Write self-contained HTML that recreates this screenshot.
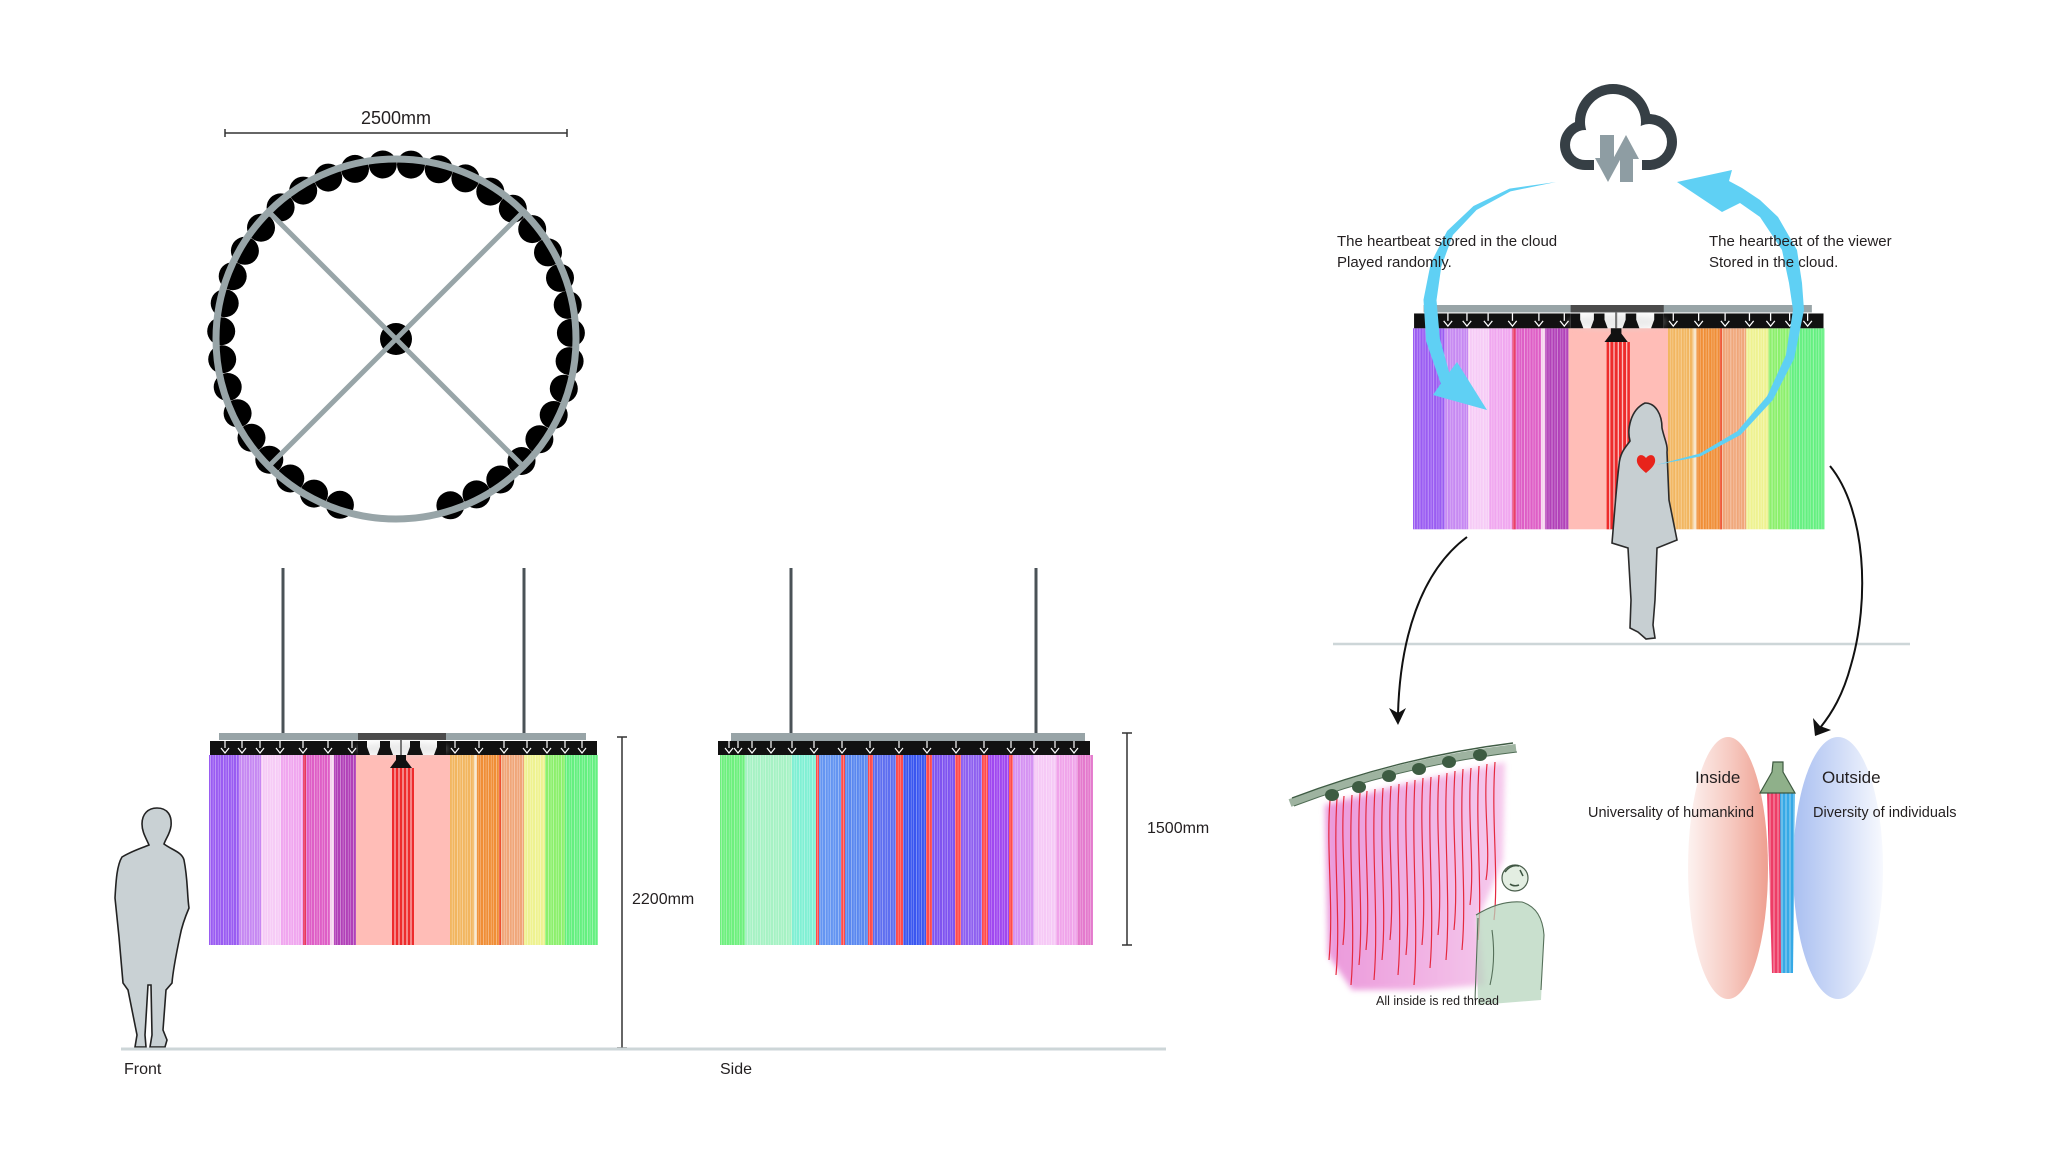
<!DOCTYPE html>
<html><head><meta charset="utf-8"><style>
html,body{margin:0;padding:0;background:#fff}
svg{display:block}
text{font-family:"Liberation Sans",sans-serif;fill:#231f20}
</style></head><body>
<svg width="2048" height="1152" viewBox="0 0 2048 1152" xmlns="http://www.w3.org/2000/svg">
<defs>
<pattern id="st" patternUnits="userSpaceOnUse" width="13" height="400">
<rect x="1" y="0" width="0.8" height="400" fill="#fff" opacity=".75"/>
<rect x="3.6" y="0" width="1" height="400" fill="#fff" opacity=".45"/>
<rect x="6.2" y="0" width="0.7" height="400" fill="#fff" opacity=".8"/>
<rect x="8.8" y="0" width="1.1" height="400" fill="#fff" opacity=".4"/>
<rect x="11.3" y="0" width="0.6" height="400" fill="#fff" opacity=".7"/>
</pattern>
<pattern id="st2" patternUnits="userSpaceOnUse" width="4" height="400">
<rect x="1.5" y="0" width="1" height="400" fill="#fff" opacity=".85"/>
</pattern>
<linearGradient id="gRed" x1="0" y1="0" x2="1" y2="0">
<stop offset="0" stop-color="#fdf2f0"/><stop offset="0.55" stop-color="#f6c8bf"/><stop offset="1" stop-color="#ee9f90"/>
</linearGradient>
<linearGradient id="gBlue" x1="0" y1="0" x2="1" y2="0">
<stop offset="0" stop-color="#a9bff1"/><stop offset="0.5" stop-color="#cfdbf7"/><stop offset="1" stop-color="#f7f9fe"/>
</linearGradient>
<linearGradient id="gPink" x1="0" y1="0" x2="1" y2="0">
<stop offset="0" stop-color="#e67fd2"/><stop offset="1" stop-color="#f4bde8"/>
</linearGradient>
<filter id="blur3" x="-20%" y="-20%" width="140%" height="140%"><feGaussianBlur stdDeviation="3"/></filter>

<g id="fc">
<rect x="10" y="0" width="367" height="7" fill="#98a4a7"/>
<rect x="149" y="0" width="88" height="7" fill="#4b4b4b"/>
<rect x="0" y="22" width="30" height="190" fill="#9a5cf2"/>
<rect x="30" y="22" width="22" height="190" fill="#c688f2"/>
<rect x="52" y="22" width="20" height="190" fill="#f6cbf6"/>
<rect x="72" y="22" width="22" height="190" fill="#f0a6ef"/>
<rect x="94" y="22" width="27" height="190" fill="#de5ec6"/>
<rect x="94" y="22" width="3" height="190" fill="#e8365e"/>
<rect x="121" y="22" width="4" height="190" fill="#f5d4ee"/>
<rect x="125" y="22" width="22" height="190" fill="#b140b8"/>
<rect x="147" y="22" width="94" height="190" fill="#ffbdb7"/>
<rect x="241" y="22" width="24" height="190" fill="#f2b660"/>
<rect x="265" y="22" width="3" height="190" fill="#f6e0c0"/>
<rect x="268" y="22" width="24" height="190" fill="#f08e36"/>
<rect x="290" y="22" width="2" height="190" fill="#ee5030"/>
<rect x="292" y="22" width="23" height="190" fill="#f0a679"/>
<rect x="315" y="22" width="21" height="190" fill="#eef290"/>
<rect x="336" y="22" width="20" height="190" fill="#8cf06c"/>
<rect x="356" y="22" width="33" height="190" fill="#64f080"/>
<rect x="0" y="22" width="147" height="190" fill="url(#st)" opacity=".6"/>
<rect x="241" y="22" width="148" height="190" fill="url(#st)" opacity=".6"/>
<rect x="183" y="35" width="22" height="177" fill="#ee2b2b"/>
<rect x="183" y="35" width="22" height="177" fill="url(#st2)"/>
<rect x="1" y="8" width="148" height="14" fill="#111"/>
<rect x="237" y="8" width="151" height="14" fill="#111"/>
<path d="M16,8v7M12,15l4,5l4,-5M33,8v7M29,15l4,5l4,-5M51,8v7M47,15l4,5l4,-5M71,8v7M67,15l4,5l4,-5M94,8v7M90,15l4,5l4,-5M119,8v7M115,15l4,5l4,-5M143,8v7M139,15l4,5l4,-5M246,8v7M242,15l4,5l4,-5M270,8v7M266,15l4,5l4,-5M295,8v7M291,15l4,5l4,-5M318,8v7M314,15l4,5l4,-5M338,8v7M334,15l4,5l4,-5M356,8v7M352,15l4,5l4,-5M373,8v7M369,15l4,5l4,-5" stroke="#fff" stroke-width="1.2" fill="none"/>
<ellipse cx="193" cy="16" rx="46" ry="7" fill="#d8d8d8" opacity=".5" filter="url(#blur3)"/>
<path d="M149,8h9v6l3,8h-12z" fill="#111"/>
<path d="M171,8h10v6l3,8h-16l3,-8z" fill="#111"/>
<path d="M201,8h10v6l3,8h-16l3,-8z" fill="#111"/>
<path d="M228,8h9v14h-12l3,-8z" fill="#111"/>
<line x1="192" y1="7" x2="192" y2="22" stroke="#777" stroke-width="2"/>
<path d="M187,22h10v5l6,8h-22l6,-8z" fill="#111"/>
</g>
</defs>

<!-- ===== Top view ===== -->
<text x="396" y="124" font-size="18" text-anchor="middle">2500mm</text>
<path d="M225,133H567M225,129v8M567,129v8" stroke="#333" stroke-width="1.5" fill="none"/>
<g fill="#000">
<circle cx="339.9" cy="504.8" r="14"/><circle cx="314.0" cy="493.6" r="14"/><circle cx="290.3" cy="478.5" r="14"/><circle cx="269.3" cy="459.7" r="14"/>
<circle cx="251.5" cy="437.8" r="14"/><circle cx="237.6" cy="413.3" r="14"/><circle cx="227.7" cy="387.0" r="14"/><circle cx="222.2" cy="359.3" r="14"/>
<circle cx="221.2" cy="331.2" r="14"/><circle cx="224.7" cy="303.2" r="14"/><circle cx="232.7" cy="276.2" r="14"/><circle cx="244.9" cy="250.8" r="14"/>
<circle cx="261.0" cy="227.7" r="14"/><circle cx="280.6" cy="207.4" r="14"/><circle cx="303.2" cy="190.6" r="14"/><circle cx="328.2" cy="177.6" r="14"/>
<circle cx="355.0" cy="168.9" r="14"/><circle cx="382.8" cy="164.5" r="14"/><circle cx="411.0" cy="164.6" r="14"/><circle cx="438.8" cy="169.3" r="14"/>
<circle cx="465.4" cy="178.4" r="14"/><circle cx="490.3" cy="191.6" r="14"/><circle cx="512.8" cy="208.7" r="14"/><circle cx="532.2" cy="229.1" r="14"/>
<circle cx="548.0" cy="252.4" r="14"/><circle cx="560.0" cy="277.9" r="14"/><circle cx="567.7" cy="304.9" r="14"/><circle cx="570.9" cy="332.9" r="14"/>
<circle cx="569.6" cy="361.1" r="14"/><circle cx="563.8" cy="388.7" r="14"/><circle cx="553.7" cy="415.0" r="14"/><circle cx="539.4" cy="439.3" r="14"/>
<circle cx="521.5" cy="461.0" r="14"/><circle cx="500.3" cy="479.5" r="14"/><circle cx="476.5" cy="494.4" r="14"/><circle cx="450.4" cy="505.3" r="14"/>
<circle cx="396" cy="339" r="16"/>
</g>
<circle cx="396" cy="339" r="180" fill="none" stroke="#98a5a8" stroke-width="7"/>
<path d="M270,213L522,465M522,213L270,465" stroke="#98a5a8" stroke-width="5"/>

<!-- ===== Front view ===== -->
<path d="M283,568V735M524,568V735M791,568V735M1036,568V735" stroke="#4a5257" stroke-width="3"/>
<use href="#fc" transform="translate(209,733)"/>

<!-- side chandelier -->
<g transform="translate(720,733)">
<rect x="11" y="0" width="354" height="8" fill="#98a4a7"/>
<rect x="0" y="22" width="25" height="190" fill="#6ef07e"/>
<rect x="25" y="22" width="47" height="190" fill="#a6f2c4"/>
<rect x="72" y="22" width="24" height="190" fill="#80f0d4"/>
<rect x="96" y="22" width="3" height="190" fill="#ff4a4a"/>
<rect x="99" y="22" width="22" height="190" fill="#6495f2"/>
<rect x="121" y="22" width="4" height="190" fill="#ff4a4a"/>
<rect x="125" y="22" width="23" height="190" fill="#5a88f0"/>
<rect x="148" y="22" width="5" height="190" fill="#ff4a4a"/>
<rect x="153" y="22" width="23" height="190" fill="#5e6ef0"/>
<rect x="176" y="22" width="7" height="190" fill="#ff4a4a"/>
<rect x="183" y="22" width="23" height="190" fill="#3a56f0"/>
<rect x="206" y="22" width="6" height="190" fill="#ff4a4a"/>
<rect x="212" y="22" width="23" height="190" fill="#7f54f0"/>
<rect x="235" y="22" width="6" height="190" fill="#ff4a4a"/>
<rect x="241" y="22" width="21" height="190" fill="#8e60f0"/>
<rect x="262" y="22" width="6" height="190" fill="#ff4a4a"/>
<rect x="268" y="22" width="21" height="190" fill="#a048f0"/>
<rect x="289" y="22" width="4" height="190" fill="#ff4a4a"/>
<rect x="293" y="22" width="21" height="190" fill="#d592f2"/>
<rect x="314" y="22" width="22" height="190" fill="#f6c9f6"/>
<rect x="336" y="22" width="21" height="190" fill="#f0a4ea"/>
<rect x="357" y="22" width="16" height="190" fill="#e47acd"/>
<rect x="0" y="22" width="373" height="190" fill="url(#st)" opacity=".55"/>
<rect x="-2" y="8" width="372" height="14" fill="#111"/>
<path d="M9,8v7M5,15l4,5l4,-5M18,8v7M14,15l4,5l4,-5M32,8v7M28,15l4,5l4,-5M51,8v7M47,15l4,5l4,-5M72,8v7M68,15l4,5l4,-5M94,8v7M90,15l4,5l4,-5M122,8v7M118,15l4,5l4,-5M150,8v7M146,15l4,5l4,-5M179,8v7M175,15l4,5l4,-5M207,8v7M203,15l4,5l4,-5M236,8v7M232,15l4,5l4,-5M264,8v7M260,15l4,5l4,-5M291,8v7M287,15l4,5l4,-5M314,8v7M310,15l4,5l4,-5M335,8v7M331,15l4,5l4,-5M354,8v7M350,15l4,5l4,-5" stroke="#fff" stroke-width="1.2" fill="none"/>
</g>

<!-- dimension lines -->
<path d="M622,737V1048M617,737h10M617,1048h10" stroke="#333" stroke-width="1.5" fill="none"/>
<path d="M1127,733V945M1122,733h10M1122,945h10" stroke="#333" stroke-width="1.5" fill="none"/>
<text x="632" y="904" font-size="16">2200mm</text>
<text x="1147" y="833" font-size="16">1500mm</text>

<!-- person front -->
<path d="M157,808C168,808 172,816 171,826C170,834 166,838 164,844C172,850 182,852 184,860C188,880 187,895 189,908C186,915 182,925 180,936C176,955 173,970 172,983L166,990L163,1030L167,1040L165,1047L150,1047L152,1035L151,985L148,985L145,1035L146,1047L135,1047L137,1035L128,990L123,983L119,937L115,898C116,880 117,865 122,857C132,851 142,848 149,845C146,838 142,832 142,824C142,814 148,808 157,808Z" fill="#c9d1d4" stroke="#222" stroke-width="1.6"/>

<!-- ground left -->
<line x1="121" y1="1049" x2="1166" y2="1049" stroke="#cdd6d8" stroke-width="3"/>
<text x="124" y="1074" font-size="16">Front</text>
<text x="720" y="1074" font-size="16">Side</text>

<!-- ===== Right: concept ===== -->
<!-- cloud -->
<g>
<circle cx="1585" cy="145" r="25" fill="#363f45"/>
<circle cx="1613" cy="122" r="38" fill="#363f45"/>
<circle cx="1649" cy="142" r="28" fill="#363f45"/>
<rect x="1585" y="140" width="64" height="30" fill="#363f45"/>
<circle cx="1585" cy="145" r="15" fill="#fff"/>
<circle cx="1613" cy="122" r="28" fill="#fff"/>
<circle cx="1649" cy="142" r="18" fill="#fff"/>
<rect x="1585" y="135" width="64" height="25" fill="#fff"/>
<rect x="1594" y="158" width="48" height="14" fill="#fff"/>
<path d="M1600,135h14v23h7l-13,24l-13,-24h5z" fill="#8e9da3"/>
<path d="M1626,135l13,24h-6v23h-13v-23h-7z" fill="#8e9da3"/>
</g>

<!-- right chandelier -->
<use href="#fc" transform="translate(1413,305) scale(1.058)"/>

<!-- woman -->
<path d="M1645,403C1656,403 1662,415 1662,428C1664,438 1668,445 1667,452L1669,500C1672,515 1675,530 1677,540L1657,548L1655,600L1653,625L1655,638L1646,639L1638,632L1630,628L1631,600L1628,548L1612,543C1614,520 1616,490 1619,465C1620,452 1626,447 1630,441C1627,430 1630,410 1645,403Z" fill="#c7cfd2" stroke="#2b2b2b" stroke-width="1.6"/>

<!-- blue arcs -->
<path d="M1556,182L1510.5,191.4L1476.5,210L1452.9,235L1441.3,266.6L1436.5,300.3L1439.9,338.7L1449.2,372.4L1457,362L1487,410L1433,395L1440.8,383.6L1426.1,341.3L1423.5,299.7L1430.7,263.4L1447.1,231L1473.5,206L1509.5,188.6Z" fill="#5fd0f4"/>
<path d="M1656,465L1700.5,456.4L1740.6,434.9L1772.9,399.9L1794.2,358.5L1804,310L1802,283L1797,250L1778,217L1760,200L1742,188L1729,181L1732,170L1677,182L1722,212L1740,203L1760,217L1782,250L1789,283L1793,310L1785.8,355.5L1767.1,396.1L1737.4,431.1L1699.5,453.6Z" fill="#5fd0f4"/>
<!-- heart -->
<path d="M1646,473C1640,468 1636,464 1637,459C1638,454 1643,454 1646,458C1649,454 1654,454 1655,459C1656,464 1652,468 1646,473Z" fill="#e8231b"/>

<text x="1337" y="246" font-size="15">The heartbeat stored in the cloud</text>
<text x="1337" y="267" font-size="15">Played randomly.</text>
<text x="1709" y="246" font-size="15">The heartbeat of the viewer</text>
<text x="1709" y="267" font-size="15">Stored in the cloud.</text>

<!-- ground right -->
<line x1="1333" y1="644" x2="1910" y2="644" stroke="#cdd6d8" stroke-width="2.5"/>

<!-- black curved arrows -->
<path d="M1467,537C1420,572 1400,640 1398,714" stroke="#111" stroke-width="2" fill="none"/>
<path d="M1398,725L1389,708L1398,713L1406,708Z" fill="#111"/>
<path d="M1830,466C1866,510 1870,600 1851,665C1843,695 1832,713 1820,728" stroke="#111" stroke-width="2" fill="none"/>
<path d="M1815,736L1813,718L1820,726L1831,730Z" fill="#111"/>

<!-- sketch -->
<g>
<path d="M1325,805L1400,785L1505,762L1503,860L1478,920L1485,985L1420,990L1352,990L1328,955Z" fill="url(#gPink)" opacity=".8" filter="url(#blur3)"/>
<path d="M1330,800C1326,852 1334,905 1329,960M1337,798C1333,860 1341,920 1336,975M1344,796C1340,845 1348,895 1343,945M1352,795C1348,860 1356,925 1351,985M1360,793C1356,850 1364,910 1359,965M1367,791C1363,840 1371,900 1366,950M1375,789C1371,850 1379,920 1374,980M1383,788C1379,850 1387,905 1382,960M1391,786C1387,840 1395,890 1390,940M1399,784C1395,850 1403,915 1398,975M1407,782C1403,840 1411,900 1406,955M1415,780C1411,850 1419,925 1414,985M1423,778C1419,835 1427,890 1422,945M1431,777C1427,840 1435,910 1430,968M1439,775C1435,830 1443,885 1438,935M1447,773C1443,830 1451,900 1446,960M1455,771C1451,830 1459,880 1454,930M1463,769C1459,830 1467,895 1462,950M1471,768C1467,820 1475,865 1470,905M1479,766C1475,830 1483,890 1478,940M1487,764C1483,810 1491,850 1486,880M1495,762C1491,820 1499,875 1494,920" stroke="#e5283f" stroke-width="1.2" fill="none"/>
<path d="M1290,803Q1400,762 1516,748" stroke="#7d9a80" stroke-width="8" fill="none" opacity=".75"/>
<path d="M1292,798Q1400,757 1513,743" stroke="#3f5c44" stroke-width="1.4" fill="none"/>
<path d="M1294,806Q1400,766 1517,752" stroke="#4f6c54" stroke-width="1" fill="none"/>
<g fill="#3d5c42">
<ellipse cx="1332" cy="795" rx="7" ry="6"/><ellipse cx="1359" cy="787" rx="7" ry="6"/><ellipse cx="1389" cy="776" rx="7" ry="6"/>
<ellipse cx="1419" cy="769" rx="7" ry="6"/><ellipse cx="1449" cy="762" rx="7" ry="6"/><ellipse cx="1480" cy="755" rx="7" ry="6"/>
</g>
<path d="M1476,915Q1500,900 1522,902Q1542,908 1544,935L1541,1000L1478,1005Z" fill="#b7d6be" opacity=".75"/>
<path d="M1476,915Q1500,900 1522,902Q1542,908 1544,935L1541,990M1478,918L1475,1000M1492,930Q1496,960 1490,985" stroke="#56705a" stroke-width="1.1" fill="none"/>
<circle cx="1515" cy="878" r="13" fill="#e3eee2" stroke="#4a5e4c" stroke-width="1.2"/>
<path d="M1505,872q6,-8 14,-6M1510,884q4,3 9,1M1520,870l3,6" stroke="#3d5441" stroke-width="1.5" fill="none"/>
</g>
<text x="1376" y="1005" font-size="12.5">All inside is red thread</text>

<!-- inside / outside -->
<ellipse cx="1728" cy="868" rx="40" ry="131" fill="url(#gRed)"/>
<ellipse cx="1838" cy="868" rx="45" ry="131" fill="url(#gBlue)"/>
<path d="M1767,793L1782,793L1784,973L1772,973Z" fill="#ee3c66"/>
<path d="M1780,793L1795,793L1793,973L1781,973Z" fill="#36a9e6"/>
<path d="M1767,793L1795,793L1793,973L1772,973Z" fill="url(#st2)" opacity=".6"/>
<path d="M1773,762h10v10l12,21h-35l12,-21z" fill="#8fb08a" stroke="#3e5a40" stroke-width="1.2"/>
<text x="1695" y="783" font-size="17">Inside</text>
<text x="1822" y="783" font-size="17">Outside</text>
<text x="1588" y="817" font-size="14.5">Universality of humankind</text>
<text x="1813" y="817" font-size="14.5">Diversity of individuals</text>
</svg>
</body></html>
